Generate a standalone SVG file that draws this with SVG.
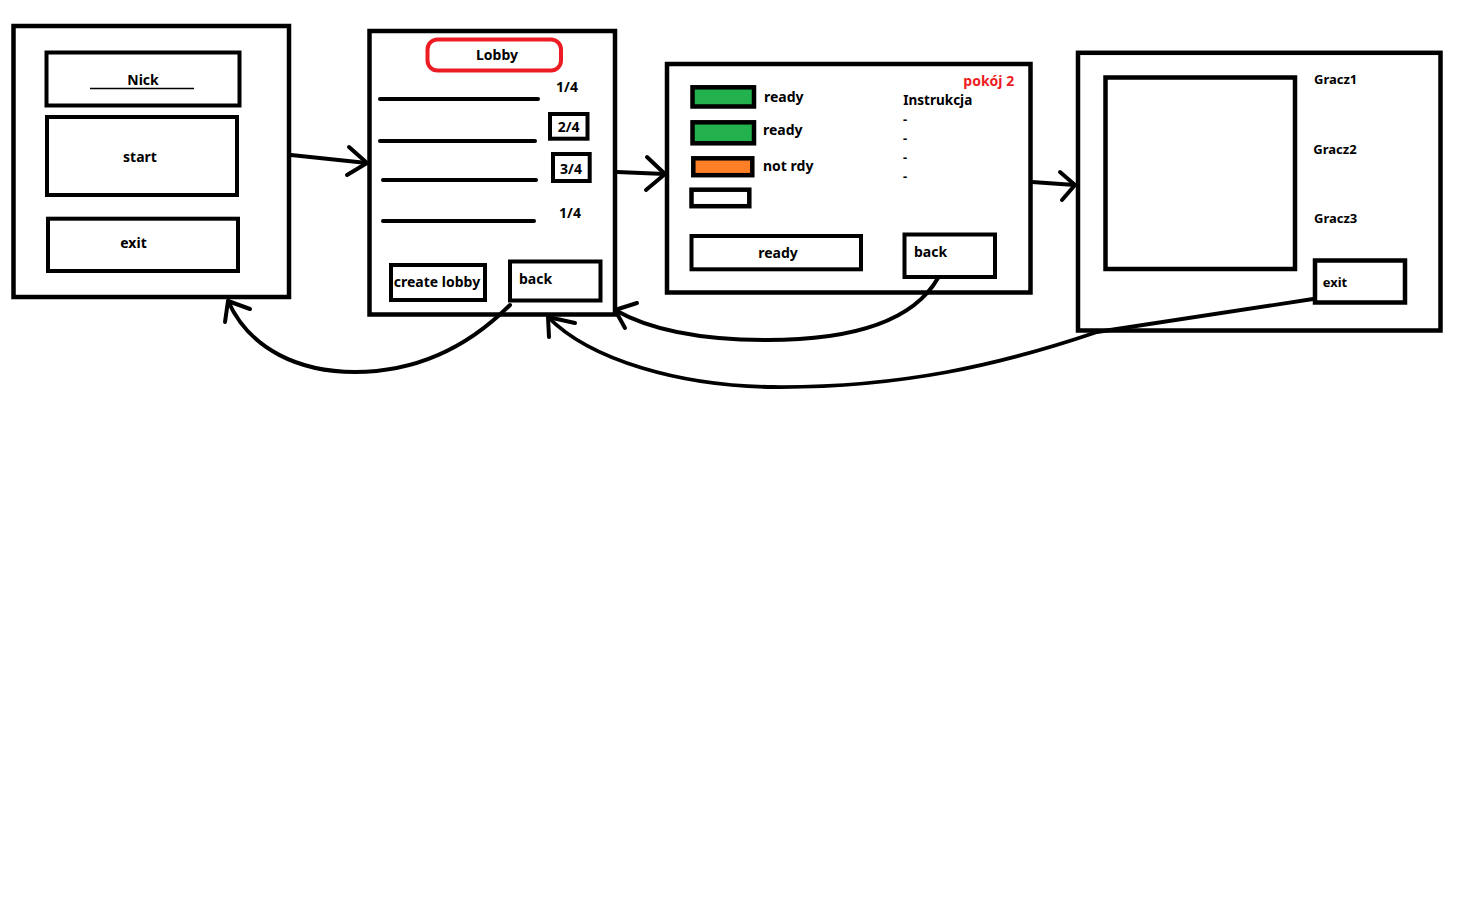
<svg xmlns="http://www.w3.org/2000/svg" width="1474" height="904" viewBox="0 0 1474 904">
<style>
.bg{fill:#fff}
.box{fill:#fff;stroke:#000;stroke-width:4.5}
.btn{fill:#fff;stroke:#000;stroke-width:4}
.line{stroke:#000;stroke-width:4;stroke-linecap:round;fill:none}
.con{stroke:#000;stroke-width:4;fill:none;stroke-linecap:round;stroke-linejoin:round}
text{font-family:"Noto Sans","Open Sans","DejaVu Sans",sans-serif;font-weight:700;font-size:14px;fill:#000}
.c{text-anchor:middle}
.s{font-size:13px}
.red{fill:#ED1C24}
</style>
<rect class="bg" x="0" y="0" width="1474" height="904"/>

<g id="screen-menu">
  <rect class="box" x="13.5" y="26" width="275.5" height="271"/>
  <rect class="btn" x="46.5" y="52.5" width="193" height="53"/>
  <text class="c" x="143" y="85">Nick</text>
  <line x1="90" y1="88.5" x2="194" y2="88.5" stroke="#000" stroke-width="1.5"/>
  <rect class="btn" x="47" y="117" width="190" height="78"/>
  <text class="c" x="140" y="162">start</text>
  <rect class="btn" x="48" y="218.7" width="190" height="52.3"/>
  <text class="c" x="133.5" y="248">exit</text>
</g>

<g id="screen-lobby">
  <rect class="box" x="369.5" y="31" width="245.5" height="283.5"/>
  <rect x="427.5" y="39.5" width="133.5" height="31" rx="10" ry="10" fill="#fff" stroke="#ED1C24" stroke-width="4"/>
  <text class="c" x="497" y="59.5">Lobby</text>
  <line class="line" x1="380" y1="99" x2="538" y2="99"/>
  <line class="line" x1="380" y1="141" x2="535" y2="141"/>
  <line class="line" x1="383" y1="180" x2="536" y2="180"/>
  <line class="line" x1="383" y1="221" x2="534" y2="221"/>
  <text class="c" x="567" y="92">1/4</text>
  <rect class="btn" x="550" y="114" width="37.5" height="24.7"/>
  <text class="c" x="568.7" y="131.7">2/4</text>
  <rect class="btn" x="553" y="154" width="36.7" height="27"/>
  <text class="c" x="571" y="174.3">3/4</text>
  <text class="c" x="570" y="218.3">1/4</text>
  <rect class="btn" x="391" y="265" width="94" height="35"/>
  <text class="c" x="437" y="287">create lobby</text>
  <rect class="btn" x="510" y="261.5" width="90.5" height="39"/>
  <text x="519" y="284">back</text>
</g>

<g id="screen-room">
  <rect class="box" x="667" y="64" width="363.5" height="228.5"/>
  <rect x="692.5" y="87.3" width="61.5" height="19.2" fill="#22B14C" stroke="#000" stroke-width="4.5"/>
  <text x="764" y="102.3">ready</text>
  <rect x="692.5" y="122.3" width="61.5" height="21" fill="#22B14C" stroke="#000" stroke-width="4.5"/>
  <text x="763" y="135">ready</text>
  <rect x="693.3" y="158.3" width="59" height="16.9" fill="#FF7F27" stroke="#000" stroke-width="4.5"/>
  <text x="763" y="170.7">not rdy</text>
  <rect x="691.5" y="189.7" width="57.8" height="16.5" fill="#fff" stroke="#000" stroke-width="4.5"/>
  <text class="red" x="963.3" y="85.7">pokój 2</text>
  <text x="903.3" y="105" style="font-size:13.5px">Instrukcja</text>
  <text x="903" y="124" class="s">-</text>
  <text x="903" y="142.5" class="s">-</text>
  <text x="903" y="161.5" class="s">-</text>
  <text x="903" y="181" class="s">-</text>
  <rect class="btn" x="691.5" y="236" width="169.5" height="33.3"/>
  <text class="c" x="778" y="257.7">ready</text>
  <rect class="btn" x="904.5" y="234.5" width="90.5" height="42.5"/>
  <text x="914" y="256.7">back</text>
</g>

<g id="screen-game">
  <rect class="box" x="1078" y="52.8" width="362.5" height="277.7"/>
  <rect class="box" x="1105.5" y="77.5" width="189.5" height="191.5"/>
  <text class="s" x="1314" y="84">Gracz1</text>
  <text class="s" x="1313.3" y="154">Gracz2</text>
  <text class="s" x="1314" y="222.7">Gracz3</text>
  <rect class="box" x="1315" y="260.5" width="90" height="42"/>
  <text class="s" x="1322.7" y="286.7">exit</text>
</g>

<g id="connectors">
  <!-- menu start -> lobby -->
  <path class="con" d="M291,155 L367,163"/>
  <polyline class="con" points="349,147 367,163 347,175"/>
  <!-- lobby -> room -->
  <path class="con" d="M617,172 L665,174"/>
  <polyline class="con" points="647,157 665,174 646,190"/>
  <!-- room -> game -->
  <path class="con" d="M1032,182 L1075,185"/>
  <polyline class="con" points="1060,172 1075,185 1062,200"/>
  <!-- lobby back -> menu -->
  <path class="con" d="M510,305 C470,345 420,372 355,372 C300,372 250,350 228,301"/>
  <polyline class="con" points="250,309 228,301 225,322"/>
  <!-- room back -> lobby -->
  <path class="con" d="M938,278 C915,318 860,340 767,340 C700,340 650,330 615,310"/>
  <polyline class="con" points="637,303 615,310 625,328"/>
  <!-- game exit -> lobby -->
  <path class="con" d="M1313,299 L1097,332 C1000,365 900,388 773,387 C680,386 590,360 548,317" style="stroke-width:3.8"/>
  <polyline class="con" points="575,323 548,317 549,337"/>
</g>
</svg>
